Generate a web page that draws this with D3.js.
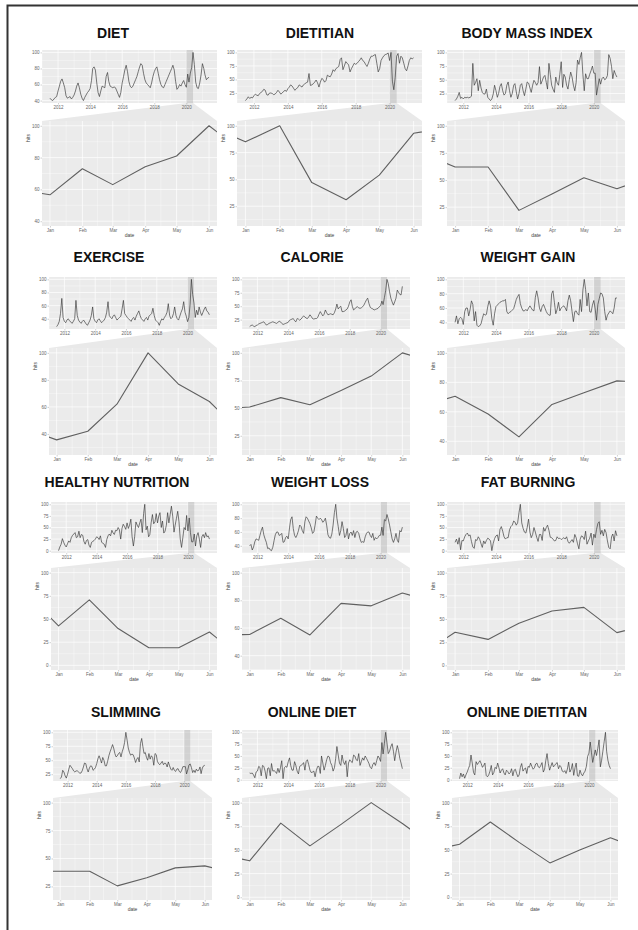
<!DOCTYPE html>
<html><head><meta charset="utf-8">
<script src="https://cdn.jsdelivr.net/npm/d3@7"></script>
<style>body{margin:0;background:#fff}svg{display:block}</style>
</head><body>
<svg id="c" width="638" height="930"></svg>
<script>
// ---------- DATA ----------
const titles = ["DIET","DIETITIAN","BODY MASS INDEX","EXERCISE","CALORIE","WEIGHT GAIN",
  "HEALTHY NUTRITION","WEIGHT LOSS","FAT BURNING","SLIMMING","ONLINE DIET","ONLINE DIETITAN"];
const yearTicks = ["2012","2014","2016","2018","2020"];
const zoomMonths = ["Jan","Feb","Mar","Apr","May","Jun"];
const yAxisTitle = "hits";
const xAxisTitle = "date";
const yTicks = [
  [40,60,80,100],[25,50,75,100],[25,50,75,100],
  [40,60,80,100],[25,50,75,100],[40,60,80,100],
  [0,25,50,75,100],[40,60,80,100],[0,25,50,75,100],
  [25,50,75,100],[0,25,50,75,100],[0,25,50,75,100]
];
// monthly hits, Jul 2011 .. Jun 2021
const diet = [43,41,40,42,44,45,
 52,58,64,67,62,56,46,43,44,45,42,44,
 47,52,58,62,56,48,43,40,44,47,50,52,
 55,65,80,82,78,62,50,45,52,58,57,56,
 70,75,64,58,57,56,57,56,52,48,44,50,
 62,70,78,84,76,64,58,56,58,62,66,70,
 76,82,86,84,74,66,62,60,58,56,62,70,
 76,80,82,74,66,60,57,56,60,64,68,72,
 76,80,84,78,64,54,56,60,58,62,65,60,
 56.6,73,63,74.3,81,100,85,63,56,55,62,72,
 86,80,72,66,68,69];
const dietitian = [11,14,18,15,17,16,
 20,23,21,20,24,26,28,32,30,22,21,25,
 25,24,22,23,26,30,27,23,25,28,30,28,
 33,36,40,38,34,30,33,35,40,38,36,40,
 42,44,45,61,39,40,42,45,49,44,36,45,
 52,50,45,48,58,56,55,60,68,65,70,72,
 74,87,90,68,75,83,80,77,64,70,75,80,
 78,80,83,86,90,85,83,78,74,80,88,93,
 93,95,96,80,64,70,85,90,94,96,97,99,
 85,100,47,31,54,93,98,80,93,90,80,70,
 66,75,85,90,88,90];
const bodyMassIndex = [12,15,20,27,16,18,
 15,18,17,18,17,18,20,80,40,45,52,30,
 49,35,27,24,24,33,18,15,12,15,24,40,
 30,18,25,38,43,30,22,25,40,46,30,18,
 25,40,43,28,15,25,40,43,30,21,33,46,
 44,35,27,40,49,45,40,45,74,42,48,55,
 58,45,33,80,60,40,33,27,55,45,40,60,
 83,36,60,55,40,33,50,64,55,40,30,45,
 86,78,90,100,60,30,61,52,52,60,67,75,
 62,62,22,37,52,42,52,55,50,52,58,96,
 89,74,52,67,60,55];
const exercise = [28,31,36,48,71,42,
 36,34,38,40,37,35,33,36,40,68,45,38,
 35,33,36,38,35,32,30,34,38,45,58,40,
 36,34,38,40,37,34,36,38,42,50,66,45,
 42,40,44,46,42,38,40,42,44,55,68,48,
 45,42,40,38,36,40,42,38,44,48,52,45,
 40,38,36,40,42,38,44,46,48,56,45,38,
 36,34,30,36,40,38,42,45,50,63,45,40,
 42,48,58,45,40,38,44,50,55,66,50,44,
 35.6,42,62,100,77,64,42,53,46,58,50,45,
 50,55,58,52,50,46];
const calorie = [12,14,15,13,12,14,
 15,17,18,19,20,21,18,15,16,18,19,20,
 21,20,19,18,20,22,21,18,16,17,18,19,
 20,24,25,26,27,23,21,27,26,24,26,29,
 32,30,28,27,30,34,31,27,26,27,27,29,
 35,40,36,32,35,43,38,34,35,36,35,34,
 38,45,54,45,48,50,40,40,41,43,45,50,
 58,62,50,43,45,48,49,47,46,47,49,52,
 57,62,65,55,48,46,45,43,44,45,46,49,
 51,59.5,53,66,79,100,92,77,65,58,52,58,
 65,80,76,72,71,87];
const weightGain = [40,49,38,45,47,45,
 37,55,60,60,49,58,70,65,42,55,36,34,
 35,38,45,52,50,51,62,70,63,45,36,52,
 62,64,66,68,69,70,70,72,55,52,54,55,
 57,59,65,72,76,79,66,60,56,56,58,56,
 60,63,60,57,56,75,84,74,60,55,62,65,
 60,55,52,50,50,80,84,68,52,58,68,56,
 60,62,63,60,56,70,78,70,55,41,55,56,
 52,50,72,55,85,100,86,63,81,55,54,64,
 70.5,58.5,43,65,73,81,80,74,55,43,50,53,
 56,54,52,60,74,74];
const healthyNutrition = [0,8,14,26,18,12,
 8,15,21,18,28,33,36,39,28,30,42,28,
 35,33,20,14,22,24,12,7,18,20,22,25,
 30,28,24,32,18,16,14,7,24,32,36,32,
 44,38,35,44,43,50,45,25,48,57,52,46,
 60,48,55,68,30,10,30,62,55,50,60,68,
 39,80,100,45,53,30,35,60,78,58,62,80,
 60,75,82,50,64,38,42,55,82,60,78,96,
 74.5,40,55,70,85,62,25,7,28,50,45,76,
 42.6,70.6,39.7,19,19,36,10,32,39,25,7,30,
 35,28,39,30,32,25];
const weightLoss = [40,42,34,38,46,50,
 49,48,55,62,67,56,50,45,36,37,34,33,
 38,48,56,60,60,55,56,58,45,46,52,54,
 50,66,78,82,65,55,52,56,62,70,68,62,
 58,75,82,80,76,72,66,58,60,70,83,80,
 78,80,78,74,76,80,70,56,52,51,57,70,
 88,100,80,68,55,62,75,65,52,55,65,50,
 58,60,55,62,52,60,61,58,50,45,46,45,
 53,58,60,60,55,52,58,48,52,50,52,55,
 55.3,67,55,77.8,76,85.3,79,70,60,50,45,50,
 58,48,45,62,60,67];
const fatBurning = [18,25,14,28,2,22,
 21,30,35,38,32,34,20,8,5,24,22,30,
 25,15,7,21,15,22,27,25,21,0,16,26,
 32,34,21,46,52,42,30,25,28,28,45,52,
 55,64,62,55,60,82,100,60,48,40,38,50,
 68,40,28,35,50,40,29,20,35,35,22,50,
 42,50,55,44,29,28,25,21,22,30,26,27,
 24,26,28,25,30,20,16,20,24,18,35,28,
 15,4,25,32,30,24,42,14,21,27,38,12,
 35.7,28,45.5,58.6,62.5,35.3,44,32,46,39,21,7,
 4,30,36,21,43,32];
const slimming = [17,20,32,29,22,18,
 25,34,41,38,35,31,29,31,31,29,27,27,
 31,38,45,44,35,29,36,40,39,32,34,37,
 44,53,58,52,45,55,50,40,40,48,58,65,
 71,78,72,62,56,58,62,64,56,65,72,82,
 100,86,72,64,59,61,60,54,46,52,55,47,
 80,89,75,62,64,55,50,62,52,58,55,41,
 62,60,48,44,42,45,48,42,45,44,38,47,
 40,34,32,37,32,30,34,35,30,28,32,38.6,
 38.6,38.6,25.5,32.7,41.6,43.4,37,28,32,28,34,31,
 32,38,26,36,40,41];
const onlineDiet = [14,13,14,10,4,16,
 18,28,26,8,30,28,18,2,24,25,8,34,
 18,19,17,13,24,15,25,40,2,25,28,26,
 37.6,46,30,20,20,38,30,18,12,28,30,32,
 36,20,38,42,32,20,15,16,18,6,20,28,
 28,13,50,35,20,30,42,50,48,36,30,18,
 25,45,70,52,35,30,52,38,32,40,6,35,
 42,38,36,52,50,42,40,55,30,38,46,41,
 50,45,40,34,26,23,32,36,30,40,50,45.7,
 38.5,78.4,54.3,77,100,78,55,60,70,76,60,40,
 58,72,62,45,35,23];
const onlineDietitan = [2,14,6,12,3,10,
 16,24,30,52,35,15,10,38,32,36,40,34,
 26,30,35,9,6,10,18,30,10,15,26,23,
 35,25,14,20,23,14,10,20,17,12,15,23,
 8,20,22,13,6,10,26,34,18,22,25,13,
 28,26,35,28,22,25,33,35,27,25,30,36,
 16,22,40,55,34,20,28,36,27,30,34,36,
 23,30,27,18,16,19,13,22,37,16,22,34,
 9,25,35,8,7,20,12,8,14,18,28,49,
 56,79.5,58,36.3,50,62.8,51,66,84,27,41,60,
 80,100,60,41,30,23];
const seriesList = [diet,dietitian,bodyMassIndex,exercise,calorie,weightGain,
  healthyNutrition,weightLoss,fatBurning,slimming,onlineDiet,onlineDietitan];

// ---------- LAYOUT ----------
const colX = [
 [[42,217],[237,422],[447,625]],
 [[49,217],[242,410],[447,625]],
 [[51,217],[242,410],[447,625]],
 [[53,212],[242,410],[452,618]]
];
const rowY = [
 {title:34, t0:50, t1:103, b0:121, b1:226},
 {title:258, t0:277, t1:329, b0:348, b1:455},
 {title:483, t0:502, t1:553, b0:568, b1:670},
 {title:713, t0:730, t1:781, b0:798, b1:900}
];
const titleX = [[113,320,527],[109,312,528],[117,320,528],[126,312,527]];

const svg = d3.select("#c");
svg.append("rect").attr("width",638).attr("height",930).attr("fill","#fff");
svg.append("path").attr("d","M7.5,930 L7.5,5.5 L638,5.5").attr("fill","none")
  .attr("stroke","#333").attr("stroke-width",2);

const months = d3.timeMonth.range(new Date(2011,6,1), new Date(2021,6,1));
const zStart = new Date(2020,0,1), zEnd = new Date(2020,5,1);
const zoomTickDates = d3.timeMonth.range(zStart, new Date(2020,5,2));
const yearTickDates = yearTicks.map(y => new Date(+y,0,1));

function expandNum(a,b){const r=b-a;return [a-r*0.05,b+r*0.05];}
function expandDate(a,b){const e=expandNum(+a,+b);return [new Date(e[0]),new Date(e[1])];}

const FONT = "Liberation Sans, Arial, sans-serif";
const defs = svg.append("defs");

function grid(g, xs, ys, x0, x1, y0, y1, xMaj, xMin, yMaj, yMin){
  g.append("rect").attr("x",x0).attr("y",y0).attr("width",x1-x0).attr("height",y1-y0).attr("fill","#ebebeb");
  const inX = v => xs(v) >= x0 && xs(v) <= x1;
  const inY = v => ys(v) >= y0 && ys(v) <= y1;
  xMin.filter(inX).forEach(v => g.append("line").attr("x1",xs(v)).attr("x2",xs(v)).attr("y1",y0).attr("y2",y1).attr("stroke","#fff").attr("stroke-width",0.35));
  yMin.filter(inY).forEach(v => g.append("line").attr("y1",ys(v)).attr("y2",ys(v)).attr("x1",x0).attr("x2",x1).attr("stroke","#fff").attr("stroke-width",0.35));
  xMaj.filter(inX).forEach(v => g.append("line").attr("x1",xs(v)).attr("x2",xs(v)).attr("y1",y0).attr("y2",y1).attr("stroke","#fff").attr("stroke-width",0.7));
  yMaj.filter(inY).forEach(v => g.append("line").attr("y1",ys(v)).attr("y2",ys(v)).attr("x1",x0).attr("x2",x1).attr("stroke","#fff").attr("stroke-width",0.7));
}
function styleAxis(a){
  a.select(".domain").remove();
  a.attr("font-family",FONT).attr("font-size",4.5);
  a.selectAll("text").attr("fill","#666");
  a.selectAll("line").attr("stroke","#888").attr("stroke-width",0.4);
}

seriesList.forEach((vals,k) => {
  const row = Math.floor(k/3), col = k%3;
  const [x0,x1] = colX[row][col];
  const R = rowY[row];
  const g = svg.append("g");
  const data = months.map((m,i) => ({date:m, v:vals[i]}));
  const yd = expandNum(d3.min(vals), d3.max(vals));
  const ticks = yTicks[k];
  const step = ticks[1]-ticks[0];
  const yMin = d3.range(ticks[0]-step/2, ticks[ticks.length-1]+step, step);

  svg.append("text").attr("x",titleX[row][col]).attr("y",R.title).attr("text-anchor","middle")
    .attr("dominant-baseline","middle").attr("font-family",FONT).attr("font-weight","bold")
    .attr("font-size",14).attr("fill","#111").text(titles[k]);

  const xT = d3.scaleTime().domain(expandDate(months[0], months[months.length-1])).range([x0,x1]);
  const yT = d3.scaleLinear().domain(yd).range([R.t1,R.t0]);
  const xZ = d3.scaleTime().domain(expandDate(zStart, zEnd)).range([x0,x1]);
  const yZ = d3.scaleLinear().domain(yd).range([R.b1,R.b0]);

  // zoom connector (drawn first so tick labels sit on top)
  g.append("polygon")
    .attr("points",[[xT(zStart),R.t1],[xT(zEnd),R.t1],[x1,R.b0],[x0,R.b0]].map(p=>p.join(",")).join(" "))
    .attr("fill","#e9e9e9");

  // ---- context (top) panel ----
  const minorYears = d3.range(2011,2023,2).map(y => new Date(y,0,1));
  grid(g, xT, yT, x0, x1, R.t0, R.t1, yearTickDates, minorYears, ticks, yMin);
  g.append("rect").attr("x",xT(zStart)).attr("y",R.t0).attr("width",xT(zEnd)-xT(zStart))
    .attr("height",R.t1-R.t0).attr("fill","#a8a8a8").attr("opacity",0.38);
  g.append("path").datum(data).attr("fill","none").attr("stroke","#333").attr("stroke-width",0.65)
    .attr("stroke-linejoin","round")
    .attr("d", d3.line().x(d=>xT(d.date)).y(d=>yT(d.v)));
  styleAxis(g.append("g").attr("transform",`translate(${x0},0)`)
    .call(d3.axisLeft(yT).tickValues(ticks).tickSize(1.5).tickPadding(1)));
  styleAxis(g.append("g").attr("transform",`translate(0,${R.t1})`)
    .call(d3.axisBottom(xT).tickValues(yearTickDates).tickFormat((d,i)=>yearTicks[i]).tickSize(1.5).tickPadding(1)));

  // ---- zoom (bottom) panel ----
  const zMinor = d3.range(zoomTickDates.length-1).map(i => new Date((+zoomTickDates[i] + +zoomTickDates[i+1])/2));
  grid(g, xZ, yZ, x0, x1, R.b0, R.b1, zoomTickDates, zMinor, ticks, yMin);
  const cid = "clip"+k;
  defs.append("clipPath").attr("id",cid).append("rect").attr("x",x0).attr("y",R.b0).attr("width",x1-x0).attr("height",R.b1-R.b0);
  g.append("path").datum(data).attr("clip-path",`url(#${cid})`).attr("fill","none")
    .attr("stroke","#606060").attr("stroke-width",1.1).attr("stroke-linejoin","round")
    .attr("d", d3.line().x(d=>xZ(d.date)).y(d=>yZ(d.v)));
  styleAxis(g.append("g").attr("transform",`translate(${x0},0)`)
    .call(d3.axisLeft(yZ).tickValues(ticks).tickSize(1.5).tickPadding(1)));
  styleAxis(g.append("g").attr("transform",`translate(0,${R.b1})`)
    .call(d3.axisBottom(xZ).tickValues(zoomTickDates).tickFormat((d,i)=>zoomMonths[i]).tickSize(1.5).tickPadding(1)));

  g.append("text").attr("transform",`translate(${x0-12},${(R.t0+R.b1)/2}) rotate(-90)`)
    .attr("text-anchor","middle").attr("font-family",FONT).attr("font-size",5).attr("fill","#444").text(yAxisTitle);
  g.append("text").attr("x",(x0+x1)/2).attr("y",R.b1+11).attr("text-anchor","middle")
    .attr("font-family",FONT).attr("font-size",5).attr("fill","#444").text(xAxisTitle);
});
</script>
</body></html>
